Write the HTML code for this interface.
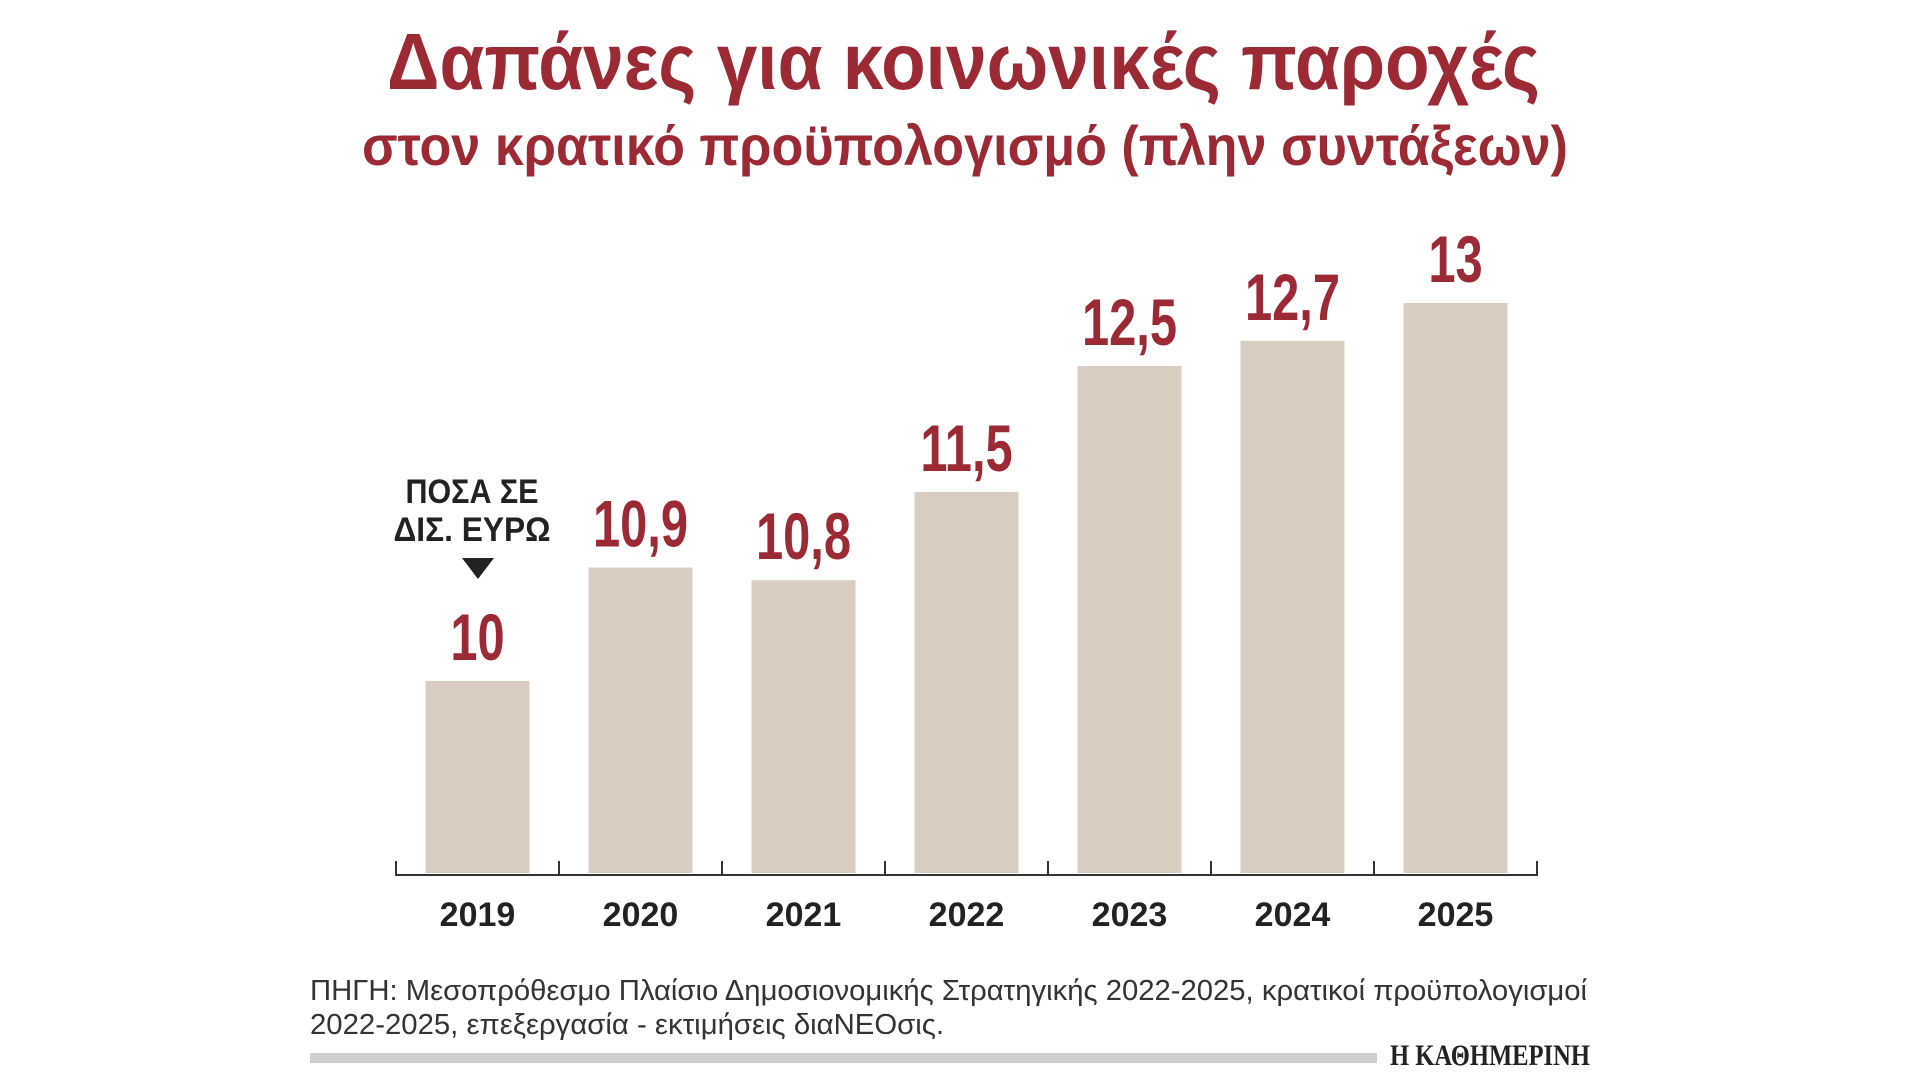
<!DOCTYPE html>
<html><head><meta charset="utf-8"><style>
html,body{margin:0;padding:0;background:#fff;}
svg{display:block;}
</style></head><body>
<svg width="1920" height="1080" viewBox="0 0 1920 1080" xmlns="http://www.w3.org/2000/svg">
<text x="387" y="89" font-family="'Liberation Sans', sans-serif" font-weight="bold" font-size="80" fill="#9b2a35" textLength="1153" lengthAdjust="spacingAndGlyphs">Δαπάνες για κοινωνικές παροχές</text>
<text x="362" y="165" font-family="'Liberation Sans', sans-serif" font-weight="bold" font-size="56" fill="#9b2a35" textLength="1206" lengthAdjust="spacingAndGlyphs">στον κρατικό προϋπολογισμό (πλην συντάξεων)</text>
<g id="bars"></g>
<g id="axis"></g>
<text x="472" y="503" text-anchor="middle" font-family="'Liberation Sans', sans-serif" font-weight="bold" font-size="34" fill="#222" textLength="133" lengthAdjust="spacingAndGlyphs">ΠΟΣΑ ΣΕ</text>
<text x="472" y="541" text-anchor="middle" font-family="'Liberation Sans', sans-serif" font-weight="bold" font-size="34" fill="#222" textLength="157" lengthAdjust="spacingAndGlyphs">ΔΙΣ. ΕΥΡΩ</text>
<polygon points="462,558 494,558 478,579" fill="#222"/>
<text x="310" y="1000" font-family="'Liberation Sans', sans-serif" font-size="29" fill="#333" textLength="1277" lengthAdjust="spacingAndGlyphs">ΠΗΓΗ: Μεσοπρόθεσμο Πλαίσιο Δημοσιονομικής Στρατηγικής 2022-2025, κρατικοί προϋπολογισμοί</text>
<text x="310" y="1034" font-family="'Liberation Sans', sans-serif" font-size="29" fill="#333" textLength="634" lengthAdjust="spacingAndGlyphs">2022-2025, επεξεργασία - εκτιμήσεις διαΝΕΟσις.</text>
<rect x="310" y="1053" width="1067" height="10" fill="#cfcfd1"/>
<text x="1390" y="1065" font-family="'Liberation Serif', serif" font-weight="bold" font-size="30" fill="#222" textLength="200" lengthAdjust="spacingAndGlyphs">Η ΚΑΘΗΜΕΡΙΝΗ</text>
</svg>
<script>
const categories = ["2019","2020","2021","2022","2023","2024","2025"];
const values = [10, 10.9, 10.8, 11.5, 12.5, 12.7, 13];
const valueLabels = ["10","10,9","10,8","11,5","12,5","12,7","13"];
const NS = "http://www.w3.org/2000/svg";
const axisY = 875, yMin = 8.46, pxPerUnit = 126;
const x0 = 396, step = 163, barW = 104;
function yScale(v){ return axisY - (v - yMin) * pxPerUnit; }
function xCenter(i){ return x0 + step * i + step / 2; }
const bars = document.getElementById('bars');
const axis = document.getElementById('axis');
categories.forEach((c, i) => {
  const r = document.createElementNS(NS, 'rect');
  
  
  r.setAttribute('x', xCenter(i) - barW / 2);
  r.setAttribute('y', yScale(values[i]));
  r.setAttribute('width', barW);
  r.setAttribute('height', axisY - 2 - yScale(values[i]));
  r.setAttribute('fill', '#d9cdc1');
  bars.appendChild(r);
  const t = document.createElementNS(NS, 'text');
  
  
  const cx = xCenter(i), by = yScale(values[i]) - 21;
  t.setAttribute('x', 0); t.setAttribute('y', 0);
  t.setAttribute('transform', 'translate(' + cx + ',' + by + ') scale(0.74,1)');
  t.setAttribute('text-anchor', 'middle');
  t.setAttribute('font-family', "'Liberation Sans', sans-serif");
  t.setAttribute('font-weight', 'bold');
  t.setAttribute('font-size', '66');
  t.setAttribute('fill', '#9b2a35');
  t.textContent = valueLabels[i];
  bars.appendChild(t);
  const y = document.createElementNS(NS, 'text');
  
  
  y.setAttribute('x', cx);
  y.setAttribute('y', 926);
  y.setAttribute('text-anchor', 'middle');
  y.setAttribute('font-family', "'Liberation Sans', sans-serif");
  y.setAttribute('font-weight', 'bold');
  y.setAttribute('font-size', '34');
  y.setAttribute('fill', '#222');
  y.textContent = c;
  axis.appendChild(y);
});
const line = document.createElementNS(NS, 'line');


line.setAttribute('x1', x0); line.setAttribute('x2', x0 + step * categories.length);
line.setAttribute('y1', axisY); line.setAttribute('y2', axisY);
line.setAttribute('stroke', '#333'); line.setAttribute('stroke-width', '2');
axis.appendChild(line);
for (let k = 0; k <= categories.length; k++) {
  const tk = document.createElementNS(NS, 'line');
  
  
  tk.setAttribute('x1', x0 + step * k); tk.setAttribute('x2', x0 + step * k);
  tk.setAttribute('y1', axisY - 14); tk.setAttribute('y2', axisY + 1);
  tk.setAttribute('stroke', '#333'); tk.setAttribute('stroke-width', '2');
  axis.appendChild(tk);
}
</script>
</body></html>
